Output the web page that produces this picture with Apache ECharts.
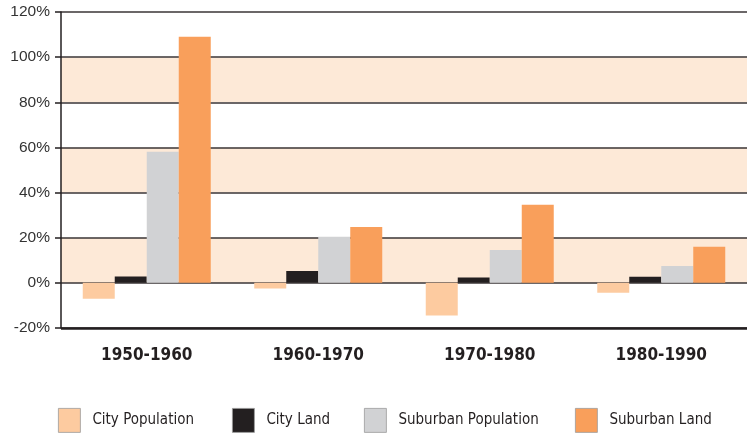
<!DOCTYPE html>
<html>
<head>
    <meta charset="utf-8"/>
    <title>City and Suburban Growth</title>
    <script src="https://cdn.jsdelivr.net/npm/echarts@6/dist/echarts.min.js"></script>
    <style>
        body { margin: 0; background: #fff; }
    </style>
</head>
<body>
<div id="main" style="width: 747px;height:437px;"></div>
<script type="text/javascript">
    // decades on the x axis
    var decades = ['1950-1960', '1960-1970', '1970-1980', '1980-1990'];
    // percent change per decade
    var cityPopulation = [-7.0, -2.5, -14.5, -4.4];
    var cityLand = [2.8, 5.3, 2.4, 2.7];
    var suburbanPopulation = [58.1, 20.4, 14.6, 7.5];
    var suburbanLand = [109, 24.8, 34.6, 16];
    var seriesNames = ['City Population', 'City Land', 'Suburban Population', 'Suburban Land'];

    var condensed = "'Liberation Sans Narrow', 'DejaVu Sans Condensed', 'Arial Narrow', sans-serif";

    var myChart = echarts.init(document.getElementById('main'));

    function bar(name, data, color) {
        return {
            name: name,
            type: 'bar',
            data: data,
            barWidth: 32,
            barGap: '0%',
            itemStyle: { color: color },
            emphasis: { disabled: true }
        };
    }

    // one legend per item so each box sits where the original has it
    var legendLeft = [58, 232, 364, 575];
    var legends = seriesNames.map(function (n, i) {
        return {
            left: legendLeft[i],
            top: 408,
            padding: 0,
            itemWidth: 22,
            itemHeight: 24,
            icon: 'rect',
            selectedMode: false,
            itemStyle: { borderColor: '#9a9a9a', borderWidth: 0.8 },
            textStyle: {
                fontFamily: condensed,
                fontSize: 15,
                color: '#231F20',
                padding: [0, 0, 0, 7]
            },
            data: [n]
        };
    });

    var option = {
        animation: false,
        grid: { left: 61, right: 0, top: 12, bottom: 109 },
        legend: legends,
        xAxis: {
            type: 'category',
            data: decades,
            axisLine: { show: false },
            axisTick: { show: false },
            axisLabel: {
                margin: 19,
                fontFamily: condensed,
                fontWeight: 'bold',
                fontSize: 17,
                color: '#231F20'
            }
        },
        yAxis: {
            type: 'value',
            min: -20,
            max: 120,
            interval: 20,
            axisLine: { show: true, lineStyle: { color: '#231F20', width: 1.5 } },
            axisTick: { show: true, length: 6, lineStyle: { color: '#231F20', width: 1.5 } },
            axisLabel: {
                formatter: '{value}%',
                margin: 11,
                fontFamily: "'Liberation Sans', Arial, sans-serif",
                fontSize: 15.5,
                color: '#333'
            },
            splitLine: { show: true, lineStyle: { color: '#3a3536', width: 1.5 } },
            splitArea: { show: true, areaStyle: { color: ['#ffffff', '#FDE9D7'] } }
        },
        series: [
            bar(seriesNames[0], cityPopulation, '#FDCBA0'),
            bar(seriesNames[1], cityLand, '#231F20'),
            bar(seriesNames[2], suburbanPopulation, '#D1D2D4'),
            bar(seriesNames[3], suburbanLand, '#F99F5B'),
            {
                // bottom frame at -20%
                type: 'line',
                data: [],
                markLine: {
                    silent: true,
                    symbol: 'none',
                    label: { show: false },
                    lineStyle: { color: '#231F20', width: 2.5, type: 'solid' },
                    data: [{ yAxis: -20 }]
                }
            }
        ]
    };

    myChart.setOption(option);
</script>
</body>
</html>
